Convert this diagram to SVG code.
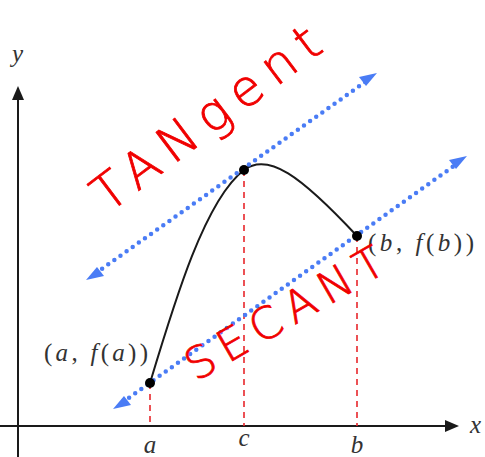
<svg xmlns="http://www.w3.org/2000/svg" width="485" height="457" viewBox="0 0 485 457">
<defs>
<style>
.axis{stroke:#1a1a1a;stroke-width:2;fill:none}
.guide{stroke:#e8262b;stroke-width:1.6;stroke-dasharray:6 5;fill:none}
.dotline{stroke:#4a7cf5;stroke-width:4.5;stroke-linecap:round;stroke-dasharray:0 7.5;fill:none}
.math{font-family:"Liberation Serif",serif;font-style:italic;font-size:25px;fill:#333}
.paren{font-family:"Liberation Serif",serif;font-size:25px;fill:#333}
.hand{font-family:"DejaVu Sans","Liberation Sans",sans-serif;font-weight:200;fill:#f00000;stroke:#f00000;stroke-width:0.8}
</style>
</defs>
<g id="axes">
<line class="axis" x1="18" y1="457" x2="18" y2="96"/>
<path d="M18,86 L12,100 L24,100 z" fill="#1a1a1a"/>
<line class="axis" x1="0" y1="426" x2="448" y2="426"/>
<path d="M459,426 L445,420 L445,432 z" fill="#1a1a1a"/>
<text class="math" x="12" y="62">y</text>
<text class="math" x="470" y="433">x</text>
</g>
<g id="connectors">
<line class="guide" x1="150" y1="383" x2="150" y2="426"/>
<line class="guide" x1="244" y1="170" x2="244" y2="426"/>
<line class="guide" x1="357" y1="236" x2="357" y2="426"/>
<path d="M150,383 C175,300 205,200 244,170 C268,152 300,175 357,236" stroke="#1a1a1a" stroke-width="2" fill="none"/>
<line class="dotline" x1="96" y1="273" x2="368" y2="80"/>
<path d="M86,280 L104,276 L97,267 z" fill="#4a7cf5"/>
<path d="M377,73 L359,77 L366,86 z" fill="#4a7cf5"/>
<line class="dotline" x1="123" y1="402" x2="458" y2="163"/>
<path d="M113,409 L131,405 L124,396 z" fill="#4a7cf5"/>
<path d="M467,156 L449,160 L456,169 z" fill="#4a7cf5"/>
</g>
<g id="point-a">
<circle cx="150" cy="383" r="5" fill="#000"/>
<text x="44" y="361" class="paren" textLength="104" lengthAdjust="spacing">(<tspan class="math">a</tspan>, <tspan class="math">f</tspan>(<tspan class="math">a</tspan>))</text>
<text class="math" x="150" y="453" text-anchor="middle">a</text>
</g>
<g id="point-c">
<circle cx="244" cy="170" r="5" fill="#000"/>
<text class="math" x="244" y="446" text-anchor="middle">c</text>
</g>
<g id="point-b">
<circle cx="357" cy="236" r="5" fill="#000"/>
<text x="368" y="251" class="paren" textLength="106" lengthAdjust="spacing">(<tspan class="math">b</tspan>, <tspan class="math">f</tspan>(<tspan class="math">b</tspan>))</text>
<text class="math" x="357" y="453" text-anchor="middle">b</text>
</g>
<g id="tangent-label">
<text class="hand" font-size="50" transform="translate(108,214) rotate(-37)" textLength="272" lengthAdjust="spacing">TANgent</text>
</g>
<g id="secant-label">
<text class="hand" font-size="44" transform="translate(196,382) rotate(-30)" textLength="222" lengthAdjust="spacing">SECANT</text>
</g>
</svg>
